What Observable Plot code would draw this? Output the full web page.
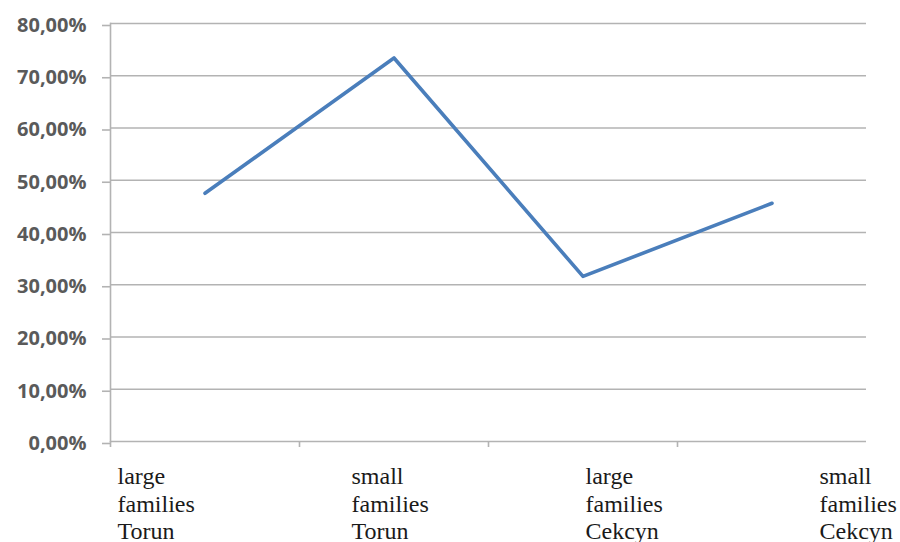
<!DOCTYPE html>
<html>
<head>
<meta charset="utf-8">
<script src="https://cdn.jsdelivr.net/npm/d3@7"></script>
<script src="https://cdn.jsdelivr.net/npm/@observablehq/plot@0.6"></script>
<style>
  html, body { margin: 0; padding: 0; background: #fff; }
  #chart svg { display: block; }
  svg.xlabels text { font-family: "Liberation Serif", "Tinos", "Times New Roman", "DejaVu Serif", serif !important; }
</style>
</head>
<body>
<div id="chart"></div>
<script>
const categories = ["large families Torun", "small families Torun", "large families Cekcyn", "small families Cekcyn"];
const shares = [47.5, 73.4, 31.6, 45.6];
const yTicks = [0, 10, 20, 30, 40, 50, 60, 70, 80];

const data = categories.map((c, i) => ({category: c, share: shares[i]}));
const fmt = d => d.toFixed(2).replace(".", ",") + "%";
const grid = "#b3b3b3";

const W = 900;
const mL = 110, mR = 34;
const bw = (W - mL - mR) / categories.length;

const main = Plot.plot({
  width: W,
  height: 452,
  marginTop: 23,
  marginBottom: 11,
  marginLeft: mL,
  marginRight: mR,
  style: {background: "#fff", overflow: "visible"},
  x: {type: "band", domain: categories, padding: 0, axis: null, label: null},
  y: {domain: [0, 80], axis: null, label: null},
  marks: [
    Plot.gridY(yTicks, {stroke: grid, strokeOpacity: 1, strokeWidth: 1.6}),
    Plot.frame({anchor: "left", stroke: grid, strokeWidth: 1.6}),
    Plot.axisY(yTicks, {
      tickSize: 8, tickPadding: 16, tickFormat: fmt, label: null,
      stroke: grid, strokeWidth: 1.6, fill: "#5a5a5a",
      fontSize: 20, fontWeight: "bold", fontFamily: "Open Sans", dy: 2
    }),
    Plot.axisX(categories, {
      tickSize: 6, dx: -bw / 2, text: null, label: null, stroke: grid, strokeWidth: 1.6
    }),
    Plot.line(data, {x: "category", y: "share", stroke: "#4a7ebb", strokeWidth: 3.6})
  ]
});

const labels = Plot.plot({
  width: W,
  height: 90,
  marginTop: 12,
  marginBottom: 0,
  marginLeft: 117,
  marginRight: 81,
  style: {background: "#fff"},
  x: {type: "point", domain: categories, padding: 0, axis: null, label: null},
  marks: [
    Plot.text(categories, {
      x: d => d, text: d => d.split(" ").join("\n"),
      frameAnchor: "top", lineAnchor: "top", textAnchor: "start",
      fontSize: 24, lineHeight: 1.15, fill: "#1a1a1a"
    })
  ]
});
labels.classList.add("xlabels");

document.getElementById("chart").append(main, labels);
</script>
</body>
</html>
